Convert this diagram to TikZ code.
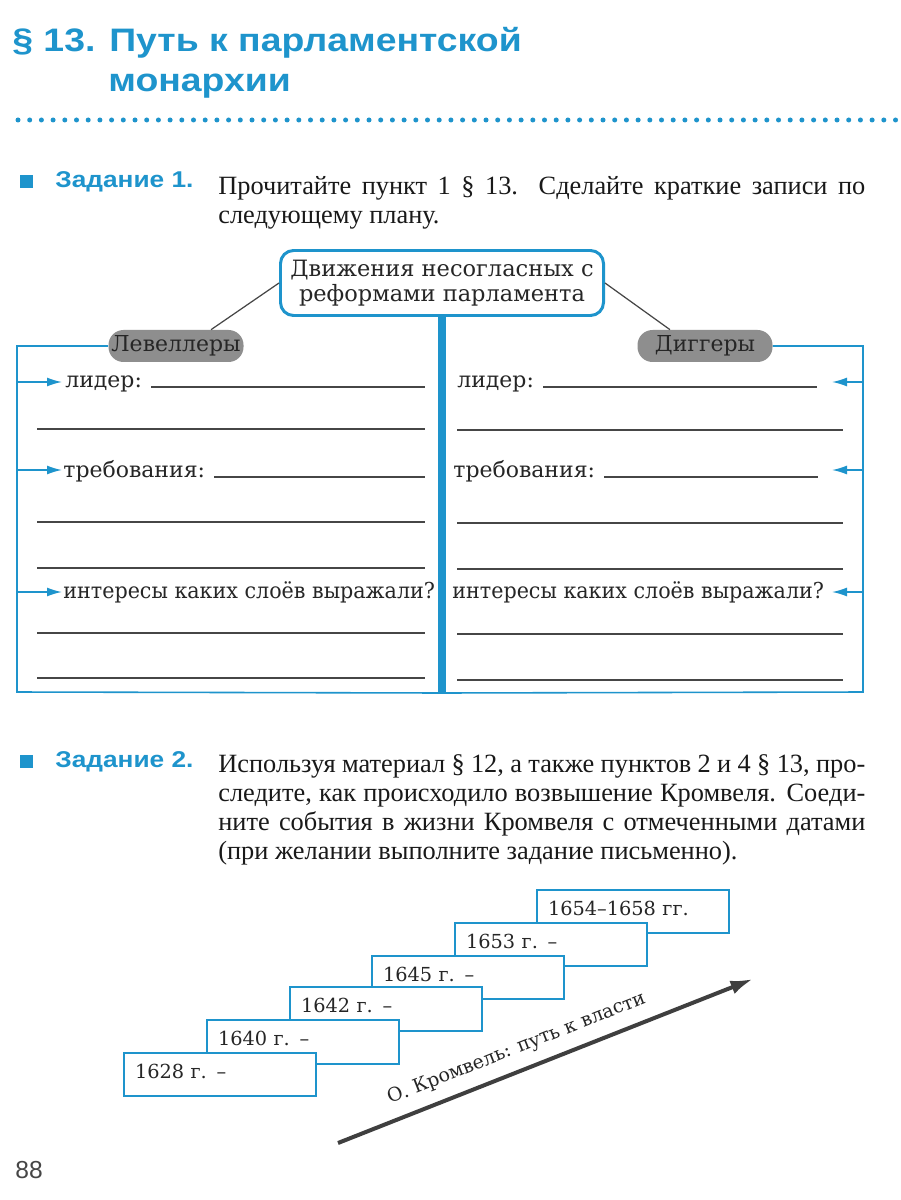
\documentclass[tikz,border=0pt]{standalone}
\usepackage{fontspec}
\setmainfont{Liberation Serif}
\newfontfamily\headfont[FakeStretch=1.15]{Liberation Sans}
\newfontfamily\taskfont[FakeStretch=1.15]{Liberation Sans}
\newfontfamily\schoolfont{DejaVu Serif}
\newfontfamily\schoolnarrow[FakeStretch=0.94]{DejaVu Serif}
\usetikzlibrary{arrows.meta,positioning}

\definecolor{bookblue}{RGB}{30,148,204}
\definecolor{pillgray}{RGB}{142,142,142}
\definecolor{inkgray}{RGB}{70,70,70}

\tikzset{
  frame/.style={draw=bookblue, line width=0.9pt},
  tip/.style={frame, -{Latex[length=3mm,width=1.8mm]}},
  blank/.style={draw=inkgray, line width=0.8pt},
  school/.style={font=\schoolfont\fontsize{12.5}{14}\selectfont, text=black!85},
  pill/.style={school, fill=pillgray, rounded corners=3mm, minimum width=27mm, minimum height=6.4mm, inner sep=0pt},
  item/.style={school, anchor=base west, inner sep=0pt},
  yearbox/.style={draw=bookblue, line width=1.2pt, fill=white, minimum width=38.4mm, minimum height=8.7mm,
    text width=34mm, text depth=1.4mm, align=left, inner sep=0pt, font=\schoolfont\fontsize{11}{13}\selectfont, text=black!85},
  bluesq/.style={fill=bookblue, minimum size=2.6mm, inner sep=0pt},
  tasklabel/.style={anchor=base west, inner sep=0pt, text=bookblue, font=\taskfont\bfseries\fontsize{13}{15}\selectfont},
  tasktext/.style={anchor=north west, inner sep=0pt, text width=129.4mm, align=justify, text=black!90,
    font=\fontsize{15}{16.5}\selectfont}
}

\begin{document}
\begin{tikzpicture}[x=0.2mm, y=-0.2mm]
  \useasboundingbox[fill=white] (0,0) rectangle (900,1200);

  % heading
  \node[anchor=base west, inner sep=0pt, text=bookblue, font=\headfont\bfseries\fontsize{18.5}{22}\selectfont] (title1) at (12,52) {§ 13. Путь к парламентской};
  \node[anchor=base west, inner sep=0pt, text=bookblue, font=\headfont\bfseries\fontsize{18.5}{22}\selectfont] (title2) at (108,92) {монархии};
  \draw[bookblue, line width=1mm, line cap=round, dash pattern=on 0pt off 2.34mm] (18,120) -- (900,120);

  % task 1
  \node[bluesq] (sq1) at (26.5,181.5) {};
  \node[tasklabel] (task1) at (55,188) {Задание 1.};
  \node[tasktext] (text1) at (218,176) {Прочитайте пункт 1 § 13. Сделайте краткие записи по\linebreak следующему плану.};

  \node[school, draw=bookblue, line width=1.7pt, rounded corners=2.6mm, minimum width=64.6mm, minimum height=13mm,
    align=center, inner sep=0pt, font=\schoolfont\fontsize{12.8}{14}\selectfont] (movt) at (442,283)
    {Движения несогласных с\\реформами парламента};
  \node[pill] (lev) at (176,346) {Левеллеры};
  \node[pill] (dig) at (705,346) {Диггеры};
  \draw[inkgray, line width=0.7pt] (movt.west) -- (lev.25);
  \draw[inkgray, line width=0.7pt] (movt.east) -- (dig.155);

  \coordinate (spine) at (442,693);
  \coordinate (lbot) at (17,692);
  \coordinate (rbot) at (863,692);
  \draw[frame] (lev.west) -| (lbot) -- (spine);
  \draw[frame] (dig.east) -| (rbot) -- (spine);
  \draw[bookblue, line width=1.5mm] (movt.south) -- (spine);

  % Levellers
  \node[item] (llid) at (65,387) {лидер:};
  \node[item] (ltreb) at (63,477) {требования:};
  \node[item, font=\schoolnarrow\fontsize{12.5}{14}\selectfont] (lint) at (63,598) {интересы каких слоёв выражали?};
  \coordinate (lf1) at (17,382); \coordinate (lt1) at (62,382);
  \coordinate (lf2) at (17,470); \coordinate (lt2) at (62,470);
  \coordinate (lf3) at (17,592); \coordinate (lt3) at (62,592);
  \draw[tip] (lf1) -- (lt1);
  \draw[tip] (lf2) -- (lt2);
  \draw[tip] (lf3) -- (lt3);
  \draw[blank] ([xshift=1.8mm]llid.base east) -- (425,387);
  \draw[blank] ([xshift=1.8mm]ltreb.base east) -- (425,477);
  \draw[blank] (37,429) -- (425,429);
  \draw[blank] (37,522) -- (425,522);
  \draw[blank] (37,568) -- (425,568);
  \draw[blank] (37,633) -- (425,633);
  \draw[blank] (37,678) -- (425,678);

  % Diggers
  \node[item] (rlid) at (457,387) {лидер:};
  \node[item] (rtreb) at (453,477) {требования:};
  \node[item, font=\schoolnarrow\fontsize{12.5}{14}\selectfont] (rint) at (452,598) {интересы каких слоёв выражали?};
  \coordinate (rf1) at (863,382); \coordinate (rt1) at (832,382);
  \coordinate (rf2) at (863,470); \coordinate (rt2) at (832,470);
  \coordinate (rf3) at (863,592); \coordinate (rt3) at (832,592);
  \draw[tip] (rf1) -- (rt1);
  \draw[tip] (rf2) -- (rt2);
  \draw[tip] (rf3) -- (rt3);
  \draw[blank] ([xshift=1.8mm]rlid.base east) -- (817,387);
  \draw[blank] ([xshift=1.8mm]rtreb.base east) -- (818,477);
  \draw[blank] (457,430) -- (843,430);
  \draw[blank] (457,523) -- (843,523);
  \draw[blank] (457,569) -- (843,569);
  \draw[blank] (457,634) -- (843,634);
  \draw[blank] (457,680) -- (843,680);

  % task 2
  \node[bluesq] (sq2) at (26.5,761) {};
  \node[tasklabel] (task2) at (55,767) {Задание 2.};
  \node[tasktext] (text2) at (218,754) {Используя материал § 12, а также пунктов 2 и 4 § 13, про-\linebreak следите, как происходило возвышение Кромвеля. Соеди-\linebreak ните события в жизни Кромвеля с отмеченными датами\linebreak (при желании выполните задание письменно).};

  \node[yearbox] (y1654) at (633,911.5) {1654–1658 гг.};
  \node[yearbox] (y1653) at (551,944.5) {1653 г. –};
  \node[yearbox] (y1645) at (468,977.5) {1645 г. –};
  \node[yearbox] (y1642) at (386,1009) {1642 г. –};
  \node[yearbox] (y1640) at (303,1042) {1640 г. –};
  \node[yearbox] (y1628) at (220,1074.5) {1628 г. –};

  \coordinate (tail) at (338,1143);
  \coordinate (head) at (753,979);
  \draw[inkgray!90!black, line width=0.8mm, -{Latex[length=4.5mm,width=2.8mm]}] (tail) -- node[pos=0.45, sloped, above=2.2mm, inner sep=0pt,
    font=\schoolfont\fontsize{10.8}{12}\selectfont, text=black!85] (path) {О. Кромвель: путь к власти} (head);

  \node[anchor=base west, inner sep=0pt, text=inkgray, font=\fontspec{Liberation Sans}\fontsize{14}{16}\selectfont] (page) at (15,1178) {88};
\end{tikzpicture}
\end{document}
